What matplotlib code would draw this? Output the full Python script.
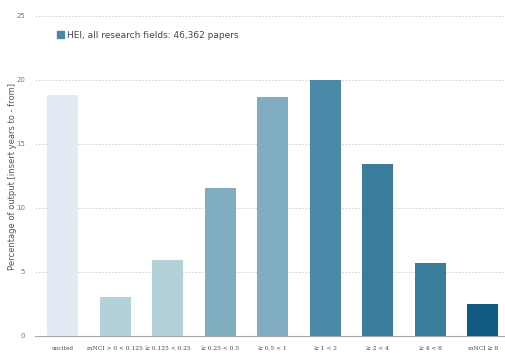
import matplotlib
matplotlib.use("Agg")
import matplotlib.pyplot as plt
from matplotlib.patches import Patch

categories = ["uncited", "mNCI > 0 < 0.125", "≥ 0.125 < 0.25", "≥ 0.25 < 0.5",
              "≥ 0.5 < 1", "≥ 1 < 2", "≥ 2 < 4", "≥ 4 < 8", "mNCI ≥ 8"]
values = [18.8, 3.05, 5.9, 11.6, 18.7, 20.0, 13.4, 5.7, 2.5]
colors = ["#e2ebf3", "#b4d0d8", "#b3d1d9", "#80adc0", "#80adc2",
          "#4a8aa8", "#3a7c9c", "#3a7c9c", "#0e5a80"]
legend_label = "HEI, all research fields: 46,362 papers"

fig = plt.figure(figsize=(5.05, 3.54), dpi=100)
ax = fig.add_axes([35 / 505, 18 / 354, 470 / 505, 320 / 354])

x = range(len(categories))
ax.bar(x, values, width=0.59, color=colors, zorder=3)

ax.set_ylim(0, 25)
ax.set_xlim(-0.524, len(categories) - 0.58)
ax.set_yticks([0, 5, 10, 15, 20, 25])
ax.set_yticklabels(["0", "5", "10", "15", "20", "25"], fontsize=5, color="#777777")
ax.set_xticks(list(x))
ax.set_xticklabels(categories, fontsize=4.2, color="#444444", family="serif")
ax.tick_params(axis="both", length=0, pad=7)
for y in [5, 10, 15, 20, 25]:
    ax.axhline(y, color="#cccccc", lw=0.6, ls=(0, (2, 2)), zorder=1)
for s in ["top", "right", "left"]:
    ax.spines[s].set_visible(False)
ax.spines["bottom"].set_color("#aaaaaa")
ax.spines["bottom"].set_linewidth(0.8)

ax.set_ylabel("Percentage of output [insert years to - from]", fontsize=6, color="#555555")
ax.yaxis.set_label_coords(-0.038, 0.5)

ax.legend(handles=[Patch(color="#4a8aa8", label=legend_label)], loc="upper left",
          bbox_to_anchor=(0.03, 0.98), frameon=False, fontsize=6.5,
          handlelength=0.8, handleheight=0.8, handletextpad=0.3, labelcolor="#444444")

fig.savefig("out.png", dpi=100)
